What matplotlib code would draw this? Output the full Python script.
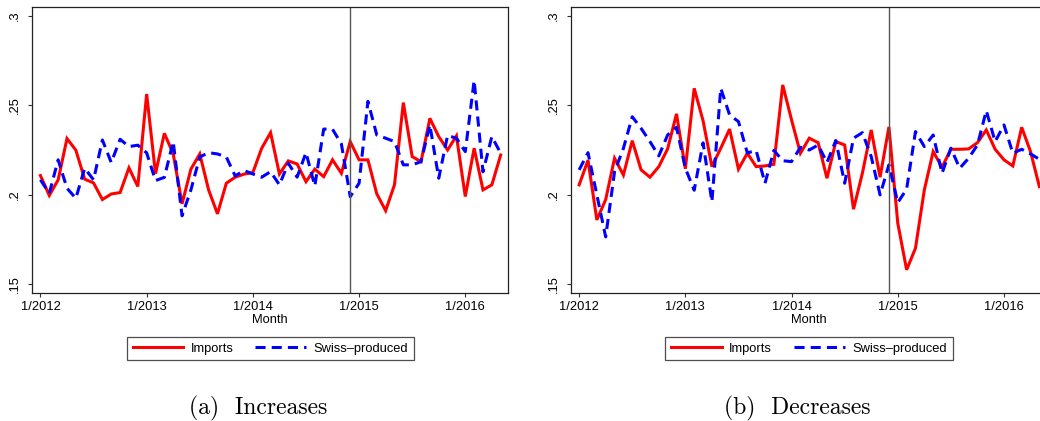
import numpy as np
import matplotlib
matplotlib.use("Agg")
import matplotlib.pyplot as plt

# Monthly shares, 1/2012 - 5/2016 (53 months)
months = np.arange(53)
tick_pos = [0, 12, 24, 36, 48]
tick_labels = ["1/2012", "1/2013", "1/2014", "1/2015", "1/2016"]
ytick_pos = [0.15, 0.2, 0.25, 0.3]
ytick_labels = [".15", ".2", ".25", ".3"]
shock_month = 35  # 12/2014

inc_imports = [
    0.2108, 0.1997, 0.2084, 0.2315, 0.2250, 0.2088, 0.2067, 0.1974, 0.2005, 0.2013,
    0.2151, 0.2047, 0.2564, 0.2119, 0.2344, 0.2230, 0.1950, 0.2144, 0.2229, 0.2028,
    0.1894, 0.2065, 0.2099, 0.2116, 0.2125, 0.2261, 0.2348, 0.2117, 0.2190, 0.2173,
    0.2074, 0.2144, 0.2102, 0.2196, 0.2121, 0.2298, 0.2196, 0.2196, 0.2006, 0.1912,
    0.2056, 0.2516, 0.2214, 0.2186, 0.2428, 0.2326, 0.2251, 0.2330, 0.1991, 0.2261,
    0.2028, 0.2056, 0.2223,
]
inc_swiss = [
    0.2084, 0.2009, 0.2196, 0.2037, 0.1981, 0.2149, 0.2084, 0.2307, 0.2181, 0.2311,
    0.2270, 0.2278, 0.2235, 0.2080, 0.2098, 0.2298, 0.1883, 0.2028, 0.2212, 0.2236,
    0.2229, 0.2212, 0.2106, 0.2136, 0.2117, 0.2099, 0.2130, 0.2056, 0.2177, 0.2099,
    0.2236, 0.2050, 0.2368, 0.2367, 0.2285, 0.1990, 0.2065, 0.2523, 0.2335, 0.2317,
    0.2298, 0.2168, 0.2168, 0.2186, 0.2391, 0.2093, 0.2332, 0.2317, 0.2242, 0.2640,
    0.2129, 0.2326, 0.2233,
]
dec_imports = [
    0.2056, 0.2194, 0.1860, 0.1974, 0.2205, 0.2111, 0.2303, 0.2140, 0.2099, 0.2158,
    0.2258, 0.2453, 0.2146, 0.2596, 0.2415, 0.2158, 0.2261, 0.2368, 0.2144, 0.2233,
    0.2158, 0.2162, 0.2171, 0.2615, 0.2419, 0.2233, 0.2317, 0.2292, 0.2093, 0.2298,
    0.2279, 0.1920, 0.2121, 0.2363, 0.2099, 0.2380, 0.1842, 0.1581, 0.1702, 0.2028,
    0.2242, 0.2155, 0.2255, 0.2255, 0.2257, 0.2292, 0.2363, 0.2255, 0.2196, 0.2162,
    0.2378, 0.2242, 0.2046,
]
dec_swiss = [
    0.2140, 0.2236, 0.2000, 0.1765, 0.2130, 0.2260, 0.2437, 0.2372, 0.2298, 0.2218,
    0.2335, 0.2378, 0.2149, 0.2026, 0.2291, 0.1962, 0.2596, 0.2447, 0.2410, 0.2235,
    0.2248, 0.2065, 0.2249, 0.2191, 0.2186, 0.2266, 0.2251, 0.2279, 0.2181, 0.2304,
    0.2065, 0.2317, 0.2348, 0.2214, 0.2000, 0.2168, 0.1957, 0.2032, 0.2354, 0.2270,
    0.2335, 0.2121, 0.2261, 0.2149, 0.2205, 0.2279, 0.2471, 0.2298, 0.2391, 0.2233,
    0.2255, 0.2229, 0.2199,
]

SANS = "Liberation Sans"
FS = 9.3
W, H = 1040, 421

fig = plt.figure(figsize=(W / 100, H / 100), dpi=100)


def draw_panel(left_px, imports, swiss, caption, caption_x):
    ax = fig.add_axes([left_px / W, 1 - 292.7 / H, 476 / W, 285.4 / H])
    ax.plot(months, imports, color="#ff0000", lw=2.2, solid_joinstyle="miter",
            label="Imports")
    ax.plot(months, swiss, color="#0000ff", lw=2.2, linestyle=(0, (3.3, 2.0)),
            label="Swiss\u2013produced")
    ax.axvline(shock_month, color="#555555", lw=1.0)
    ax.set_xlim(-0.92, 52.86)
    ax.set_ylim(0.1453, 0.3049)
    ax.set_xticks(tick_pos)
    ax.set_xticklabels(tick_labels, family=SANS, fontsize=FS)
    ax.set_yticks(ytick_pos)
    ax.set_yticklabels(ytick_labels, family=SANS, fontsize=FS, rotation=90,
                       va="center")
    ax.tick_params(direction="out", length=3, width=0.8, color="#333333")
    ax.tick_params(axis="y", pad=5)
    ax.tick_params(axis="x", pad=3)
    for sp in ax.spines.values():
        sp.set_color("#222222")
        sp.set_linewidth(0.9)
    ax.set_xlabel("Month", family=SANS, fontsize=FS, labelpad=0.5)
    leg = ax.legend(loc="center", bbox_to_anchor=(0.5, -0.196), ncol=2,
                    prop={"family": SANS, "size": FS}, frameon=True,
                    fancybox=False, handlelength=3.9, handletextpad=0.6,
                    columnspacing=1.7, borderpad=0.45, borderaxespad=0)
    leg.get_frame().set_edgecolor("#222222")
    leg.get_frame().set_linewidth(0.9)
    fig.text(caption_x / W, 1 - 408 / H, caption, family="cmr10", fontsize=17,
             ha="center", va="center")
    return ax


draw_panel(32.3, inc_imports, inc_swiss, "(a)  Increases", 258)
draw_panel(571.0, dec_imports, dec_swiss, "(b)  Decreases", 797)

fig.savefig("out.png", dpi=100)
